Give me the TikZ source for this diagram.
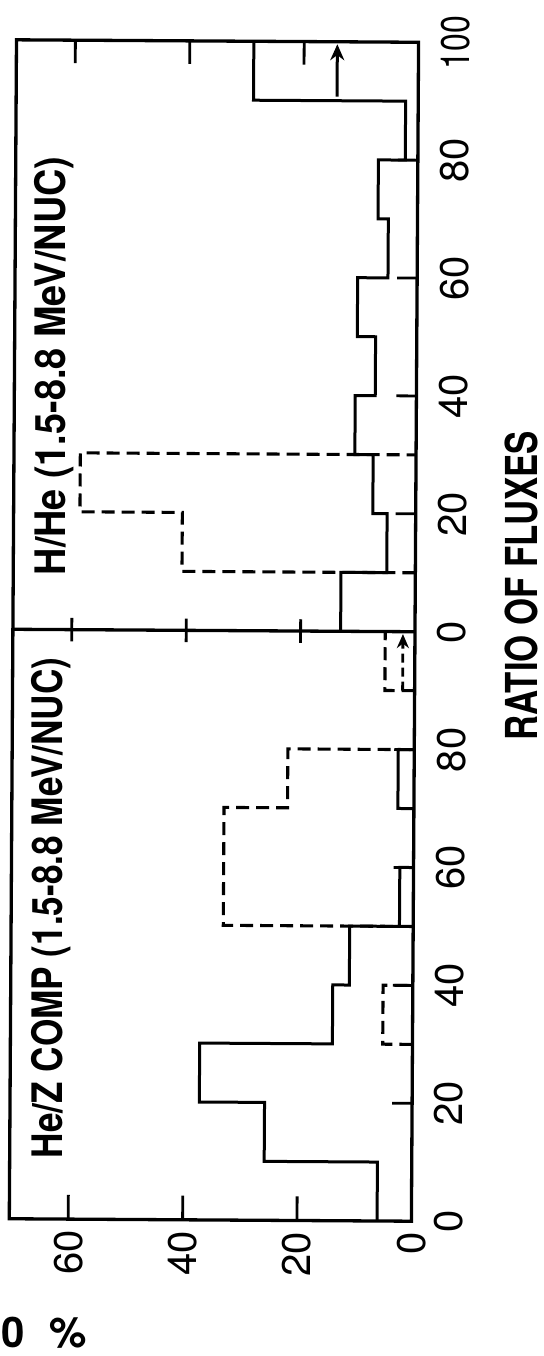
\documentclass[tikz,border=0pt]{standalone}
\usepackage{fontspec}
\newfontfamily\hv{TeX Gyre Heros}
\usetikzlibrary{arrows.meta}
\begin{document}
\begin{tikzpicture}[x=0.5pt,y=-0.5pt,
  frame/.style={line width=1.65pt},
  hist/.style={line width=1.5pt, line join=miter},
  dhist/.style={line width=1.55pt, dash pattern=on 6.5pt off 3.5pt},
  tickmark/.style={line width=1.4pt},
  lab/.style={font=\hv\bfseries\fontsize{21}{21}\selectfont, rotate=90, inner sep=0pt},
  num/.style={font=\hv\fontsize{20}{20}\selectfont, rotate=90, inner sep=0pt},
]
\useasboundingbox (0,0) rectangle (544,1356);
\begin{scope}[rotate around={-0.35:(214,630)}]
 \begin{scope}[shift={(415,1220)}, x=-2.86pt, y=2.9475pt]
   % frame and divider
   \draw[frame] (70.3,0) rectangle (0,200);
   \draw[frame] (70.3,100) -- (0,100);
   % count ticks
   \foreach \c in {20,40,60} {
     \draw[tickmark] (\c,0) -- (\c,4.1);
     \draw[tickmark] (\c,98) -- (\c,102);
     \draw[tickmark] (\c,200) -- (\c,196.1);
   }
   % ratio ticks
   \foreach \r in {20,40,60,80,120,140,160,180} {
     \draw[tickmark] (0,\r) -- (3.5,\r);
   }
   % lower panel, solid
   \draw[hist] (6.0,0) -- (6.0,10) -- (25.8,10) -- (25.8,20) -- (37.2,20) -- (37.2,30)
     -- (14,30) -- (14,40) -- (11.1,40) -- (11.1,50) -- (2.4,50) -- (2.4,60) -- (0,60);
   \draw[hist] (0,70) -- (2.8,70) -- (2.8,80) -- (0,80);
   % lower panel, dashed
   \draw[dhist] (0,30) -- (5.2,30) -- (5.2,40) -- (0,40);
   \draw[dhist] (0,50) -- (33.2,50) -- (33.2,70) -- (22.1,70) -- (22.1,80) -- (0,80);
   \draw[dhist] (0,90) -- (5.2,90) -- (5.2,100);
   \coordinate (la0) at (2.1,90);
   \coordinate (la1) at (2.1,99.6);
   \draw[line width=1.4pt, dash pattern=on 4.5pt off 2.5pt, -{Stealth[length=7pt,width=6pt]}] (la0) -- (la1);
   % upper panel, solid
   \draw[hist] (13,100) -- (13,110) -- (5,110) -- (5,120) -- (7.5,120) -- (7.5,130)
     -- (10.7,130) -- (10.7,140) -- (7.2,140) -- (7.2,150) -- (10.4,150) -- (10.4,160)
     -- (5.1,160) -- (5.1,170) -- (6.9,170) -- (6.9,180) -- (2.2,180) -- (2.2,190)
     -- (28.8,190) -- (28.8,200);
   % upper panel, dashed
   \draw[dhist] (0,110) -- (40.8,110) -- (40.8,120) -- (58.7,120) -- (58.7,130) -- (0,130);
   \coordinate (ua0) at (14.2,190.7);
   \coordinate (ua1) at (14.2,199.6);
   \draw[line width=1.5pt, -{Stealth[length=8pt,width=7pt]}] (ua0) -- (ua1);
 \end{scope}
 % panel labels
 \node[lab] (hhe) at (52.4,367) {\scalebox{0.90}[1]{H/He (1.5-8.8 MeV/NUC)}};
 \node[lab] (hez) at (52.7,909) {\scalebox{0.837}[1]{He/Z COMP (1.5-8.8 MeV/NUC)}};
 % ratio labels
 \node[num] (r100) at (452,41) {\scalebox{0.8}[1]{100}};
 \node[num] (r80u) at (452,158.9) {80};
 \node[num] (r60u) at (452,276.8) {60};
 \node[num] (r40u) at (452,394.7) {40};
 \node[num] (r20u) at (452,512.6) {20};
 \node[num] (r0u) at (452,630.5) {0};
 \node[num] (r80l) at (452,748.4) {80};
 \node[num] (r60l) at (452,866.3) {60};
 \node[num] (r40l) at (452,984.2) {40};
 \node[num] (r20l) at (452,1102.1) {20};
 \node[num] (r0l) at (452,1220) {0};
 % count labels
 \node[num, anchor=east] (c60) at (71.8,1231) {60};
 \node[num, anchor=east] (c40) at (186.2,1231) {40};
 \node[num, anchor=east] (c20) at (300.6,1231) {20};
 \node[num, anchor=east] (c0) at (415,1231) {0};
 % axis title
 \node[lab, font=\hv\bfseries\fontsize{22}{22}\selectfont] (xt) at (521,584) {\scalebox{0.79}[1]{RATIO OF FLUXES}};
\end{scope}
\node[anchor=base west, inner sep=0pt, font=\hv\bfseries\fontsize{21}{21}\selectfont] (pct) at (1,1347) {0\hspace{12.5pt}\%};
\end{tikzpicture}
\end{document}
